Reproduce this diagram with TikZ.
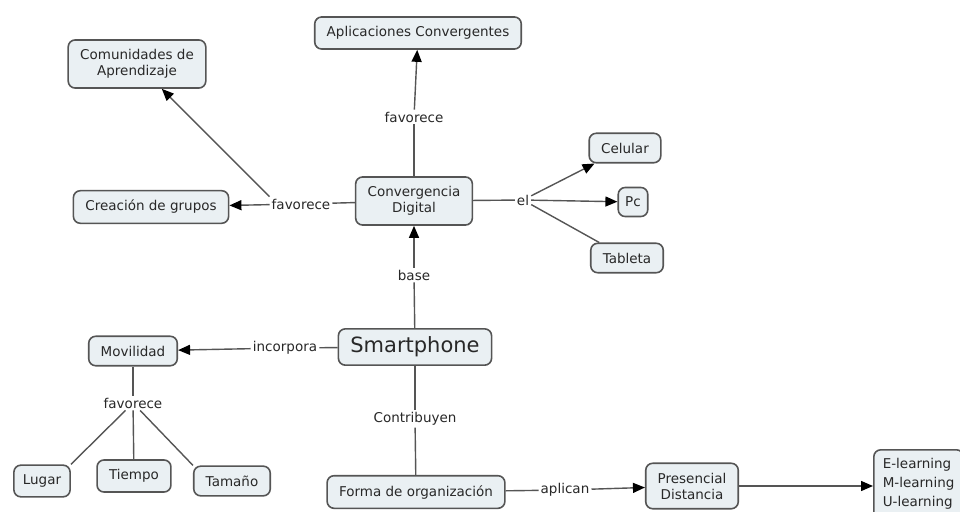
\documentclass[tikz,border=0pt]{standalone}
\usepackage{fontspec}
\setmainfont{DejaVu Sans}
\usetikzlibrary{arrows.meta}
\definecolor{cajafondo}{RGB}{234,240,243}
\definecolor{cajaborde}{RGB}{85,85,85}
\definecolor{texto}{RGB}{40,40,40}

\begin{document}
\begin{tikzpicture}[x=1pt, y=-1pt, font=\fontsize{13.5}{16}\selectfont, text=texto,
    concepto/.style={draw=cajaborde, fill=cajafondo, line width=1.6pt, rounded corners=7pt,
                     align=center, inner xsep=12pt, inner ysep=9.5pt},
    enlace/.style={fill=white, inner sep=2pt},
    linea/.style={draw=cajaborde, line width=1.4pt},
    flecha/.style={linea, -{Triangle[length=12pt,width=10pt,black]}}]
    \clip (0,0) rectangle (960,511);
    \fill[white] (0,0) rectangle (960,511);
    % conceptos
    \node[concepto, inner ysep=8pt] (Smart) at (415,347) {\fontsize{21}{24}\selectfont Smartphone};
    \node[concepto] (Conv) at (414,201) {Convergencia\\Digital};
    \node[concepto] (Apli) at (418,33) {Aplicaciones Convergentes};
    \node[concepto] (Comu) at (137,64) {Comunidades de\\Aprendizaje};
    \node[concepto] (Crea) at (151,207) {Creación de grupos};
    \node[concepto] (Celu) at (625,148) {Celular};
    \node[concepto, inner xsep=7pt] (Pc) at (633,202) {Pc};
    \node[concepto] (Tabl) at (627,258) {Tableta};
    \node[concepto] (Movi) at (133,351) {Movilidad};
    \node[concepto, inner xsep=9pt] (Luga) at (42,481) {Lugar};
    \node[concepto] (Tiem) at (134,476) {Tiempo};
    \node[concepto] (Tama) at (232,481) {Tamaño};
    \node[concepto] (Form) at (416,492) {Forma de organización};
    \node[concepto] (Pres) at (692,486) {Presencial\\Distancia};
    \node[concepto, anchor=north west, align=left, inner xsep=9pt, inner ysep=8pt]
        (Lear) at (873,449) {E-learning\\[3pt]M-learning\\[3pt]U-learning\\[3pt]\phantom{x}};
    % enlaces
    \node[enlace] (fav1) at (414,117) {favorece};
    \node[enlace] (fav2) at (301,204) {favorece};
    \node[enlace] (el) at (523,200) {el};
    \node[enlace] (base) at (414,275) {base};
    \node[enlace] (inco) at (285,348) {incorpora};
    \node[enlace] (fav3) at (133,403) {favorece};
    \node[enlace] (cont) at (415,419) {Contribuyen};
    \node[enlace] (apli) at (565,490) {aplican};
    % conectores
    \draw[linea] (Conv) -- (fav1);
    \draw[flecha] (fav1) -- (Apli);
    \draw[linea] (Conv) -- (fav2);
    \draw[flecha] (fav2) -- (Crea);
    \draw[flecha] (fav2.north west) -- (Comu);
    \draw[linea] (Conv) -- (el);
    \draw[flecha] (el) -- (Celu);
    \draw[flecha] (el) -- (Pc);
    \draw[linea] (el) -- (Tabl);
    \draw[linea] (Smart) -- (base);
    \draw[flecha] (base) -- (Conv);
    \draw[linea] (Smart) -- (inco);
    \draw[flecha] (inco) -- (Movi);
    \draw[linea] (Movi) -- (fav3);
    \draw[linea] (fav3) -- (Luga.north east);
    \draw[linea] (fav3) -- (Tiem);
    \draw[linea] (fav3) -- (Tama.north west);
    \draw[linea] (Smart) -- (cont);
    \draw[linea] (cont) -- (Form);
    \draw[linea] (Form) -- (apli);
    \draw[flecha] (apli) -- (Pres);
    \draw[flecha] (Pres) -- (Lear.west |- Pres);
\end{tikzpicture}
\end{document}
